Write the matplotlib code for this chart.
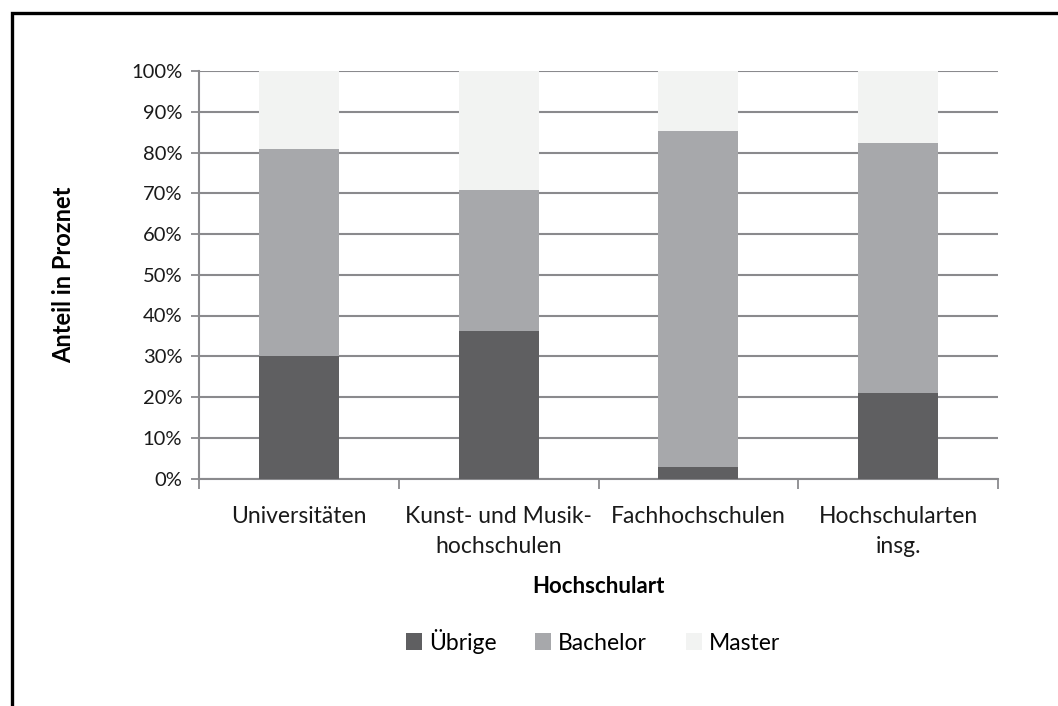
import matplotlib
matplotlib.use("Agg")
import matplotlib.pyplot as plt
from matplotlib.patches import Rectangle
import numpy as np

categories = ["Universitäten", "Kunst- und Musik-\nhochschulen", "Fachhochschulen", "Hochschularten\ninsg."]
uebrige = [30.1, 36.2, 2.7, 21.1]
bachelor = [50.8, 34.6, 82.6, 61.2]
master = [19.1, 29.2, 14.7, 17.7]
series_names = ["Übrige", "Bachelor", "Master"]
colors = ["#5f5f61", "#a7a8ab", "#f2f3f2"]

plt.rcParams["font.family"] = ["Lato", "DejaVu Sans"]

W, H = 1058, 706
fig = plt.figure(figsize=(W / 100, H / 100), dpi=100)
ax = fig.add_axes([199 / W, 1 - 478.5 / H, (998 - 199) / W, (478.5 - 71) / H])

# outer frame (cropped at right and bottom)
fig.patches.append(Rectangle((12 / W, -0.1), 1.2, 1 - 13 / H + 0.1, transform=fig.transFigure,
                             fill=False, edgecolor="black", linewidth=2.4))

x = np.arange(len(categories))
bottom = np.zeros(len(categories))
for name, vals, c in zip(series_names, [uebrige, bachelor, master], colors):
    ax.bar(x, vals, width=0.4, bottom=bottom, color=c, label=name, zorder=3)
    bottom += np.array(vals)

grid_c = "#8a8a8d"
ax.set_ylim(0, 100)
ax.set_xlim(-0.5, len(categories) - 0.5)
ax.set_yticks(np.arange(0, 101, 10))
ax.set_yticklabels([f"{v}%" for v in range(0, 101, 10)], fontsize=14.5, color="#1a1a1a")
ax.yaxis.grid(True, color=grid_c, linewidth=1.5, zorder=0)
ax.set_axisbelow(True)

ax.set_xticks(np.arange(-0.5, len(categories), 1.0))
ax.set_xticklabels([])
ax.set_xticks(x, minor=True)
ax.set_xticklabels(categories, minor=True, fontsize=16.5, color="#1a1a1a", linespacing=1.5, va="top")
ax.tick_params(axis="x", which="minor", length=0, pad=20)
ax.tick_params(axis="x", which="major", length=7, width=1.3, color=grid_c)
ax.tick_params(axis="y", length=6, width=1.3, color=grid_c, pad=6)

for s in ["top", "right"]:
    ax.spines[s].set_visible(False)
for s in ["left", "bottom"]:
    ax.spines[s].set_color(grid_c)
    ax.spines[s].set_linewidth(1.5)

ax.set_ylabel("Anteil in Proznet", fontsize=17, fontweight="bold", labelpad=40)
ax.set_xlabel("Hochschulart", fontsize=16, fontweight="bold", labelpad=14)

fig.legend(loc="center", bbox_to_anchor=(593 / W, 1 - 641 / H), ncol=3, frameon=False,
           fontsize=16.5, handlelength=0.7, handleheight=0.7, handletextpad=0.3,
           columnspacing=1.7)

fig.savefig("out.png", dpi=100, facecolor="white")
